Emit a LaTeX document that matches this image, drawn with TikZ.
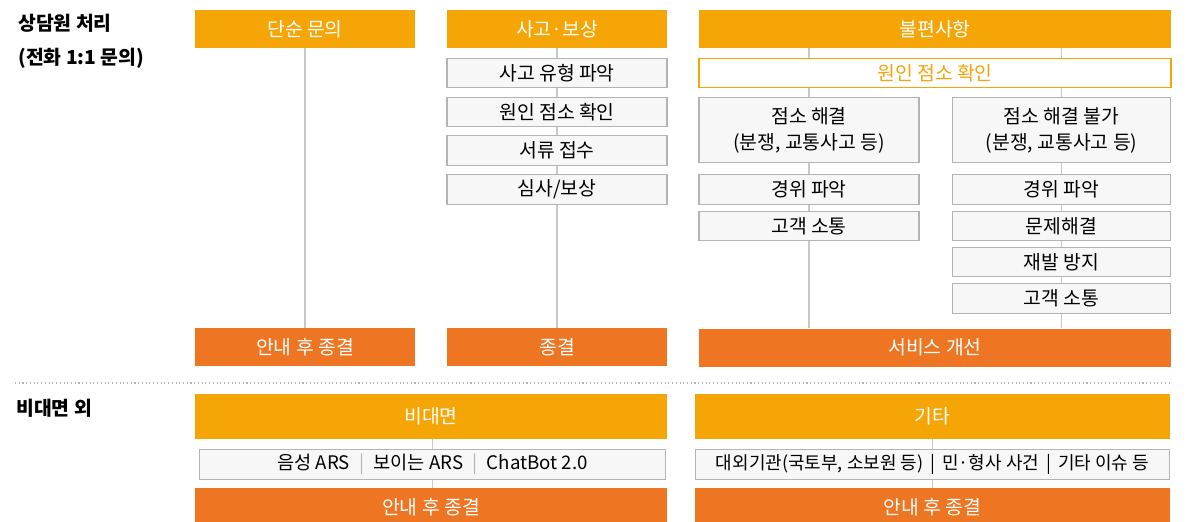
\documentclass[tikz,border=0pt]{standalone}
\usepackage{fontspec}
\setmainfont{Noto Sans CJK KR}
\usetikzlibrary{positioning}
\definecolor{headamber}{HTML}{F5A506}
\definecolor{endorange}{HTML}{EE7623}
\definecolor{boxgray}{HTML}{B4B4B4}
\definecolor{boxfill}{HTML}{F6F7F6}
\definecolor{linegray}{HTML}{C8C8C8}
\newcommand{\boxfont}{\fontsize{14.5}{19.5}\selectfont}
\newcommand{\arsbar}{\enspace\textcolor{boxgray}{|}\enspace}
\tikzset{
    headbox/.style = {
        rectangle, fill=headamber, text=white,
        minimum width=165pt, minimum height=28.5pt,
        inner sep=0pt, font=\boxfont
    },
    endbox/.style = {
        headbox, fill=endorange
    },
    stepbox/.style = {
        rectangle, draw=boxgray, fill=boxfill, line width=0.9pt,
        minimum width=165pt, minimum height=22pt,
        inner sep=0pt, align=center, font=\boxfont
    },
    causebox/.style = {
        stepbox, draw=headamber, fill=white, text=headamber
    },
    sidetitle/.style = {
        anchor=north west, align=left, inner sep=0pt,
        font=\fontsize{14.5}{25.5}\selectfont\bfseries
    },
    link/.style = {
        draw=linegray, line width=1.1pt
    }
}

\begin{document}
\begin{tikzpicture}[x=0.75pt, y=-0.75pt]
\useasboundingbox (0,0) rectangle (1198,521);

% left titles
\node (phone) [sidetitle] at (18,14) {상담원 처리\\(전화 1:1 문의)};
\node (online) [sidetitle] at (16,399) {비대면 외};

% simple inquiry
\node (simple) [headbox] at (305,29) {단순 문의};
\node (simpleend) [endbox] at (305,347) {안내 후 종결};

% accident / compensation
\node (acc) [headbox] at (557,29) {사고·보상};
\node (acc1) [stepbox] at (557,73) {사고 유형 파악};
\node (acc2) [stepbox] at (557,112) {원인 점소 확인};
\node (acc3) [stepbox] at (557,150.5) {서류 접수};
\node (acc4) [stepbox] at (557,189.5) {심사/보상};
\node (accend) [endbox] at (557,347) {종결};

% complaints
\node (comp) [headbox, minimum width=354pt] at (935,29) {불편사항};
\node (cause) [causebox, minimum width=354pt] at (935,73) {원인 점소 확인};
\node (solved) [stepbox, minimum height=49pt] at (809,130) {점소 해결\\(분쟁, 교통사고 등)};
\node (unsolved) [stepbox, minimum width=164pt, minimum height=49pt] at (1061.5,130) {점소 해결 불가\\(분쟁, 교통사고 등)};
\node (lwhy) [stepbox] at (809,189.5) {경위 파악};
\node (ltalk) [stepbox] at (809,226) {고객 소통};
\node (rwhy) [stepbox, minimum width=164pt] at (1061.5,189.5) {경위 파악};
\node (rfix) [stepbox, minimum width=164pt] at (1061.5,226) {문제해결};
\node (rprev) [stepbox, minimum width=164pt] at (1061.5,262) {재발 방지};
\node (rtalk) [stepbox, minimum width=164pt] at (1061.5,298.5) {고객 소통};
\node (service) [endbox, minimum width=354pt] at (935,347.5) {서비스 개선};

% non face-to-face
\node (remote) [headbox, minimum width=354pt, minimum height=34pt] at (431,416.5) {비대면};
\node (ars) [stepbox, minimum width=349pt, font=\fontsize{14}{17}\selectfont] at (432.5,464.5) {음성 ARS\arsbar 보이는 ARS\arsbar ChatBot 2.0};
\node (remoteend) [endbox, minimum width=354pt] at (431,507) {안내 후 종결};

% others
\node (etc) [headbox, minimum width=356pt, minimum height=34pt] at (932.5,416.5) {기타};
\node (etcsub) [stepbox, minimum width=356pt, font=\fontsize{13.5}{17}\selectfont] at (932.5,464.5) {대외기관(국토부, 소보원 등) \,|\, 민·형사 사건 \,|\, 기타 이슈 등};
\node (etcend) [endbox, minimum width=356pt] at (932.5,507) {안내 후 종결};

% connectors
\draw [link] (simple) -- (simpleend);
\draw [link] (acc) -- (acc1);
\draw [link] (acc1) -- (acc2);
\draw [link] (acc2) -- (acc3);
\draw [link] (acc3) -- (acc4);
\draw [link] (acc4) -- (accend);
\draw [link] (comp.south -| solved.north) -- (cause.north -| solved.north);
\draw [link] (comp.south -| unsolved.north) -- (cause.north -| unsolved.north);
\draw [link] (cause.south -| solved.north) -- (solved);
\draw [link] (cause.south -| unsolved.north) -- (unsolved);
\draw [link] (solved) -- (lwhy);
\draw [link] (lwhy) -- (ltalk);
\draw [link] (ltalk.south) -- (service.north -| ltalk.south);
\draw [link] (unsolved) -- (rwhy);
\draw [link] (rwhy) -- (rfix);
\draw [link] (rfix) -- (rprev);
\draw [link] (rprev) -- (rtalk);
\draw [link] (rtalk.south) -- (service.north -| rtalk.south);
\draw [link, line width=0.8pt] (remote.south -| ars.north) -- (ars);
\draw [link, line width=0.8pt] (ars.south) -- (remoteend.north -| ars.south);
\draw [link] (etc) -- (etcsub);
\draw [link] (etcsub) -- (etcend);

% separator
\draw [linegray!90!black, line width=0.8pt, dotted] (15,383) -- (1172,383);

\end{tikzpicture}
\end{document}
